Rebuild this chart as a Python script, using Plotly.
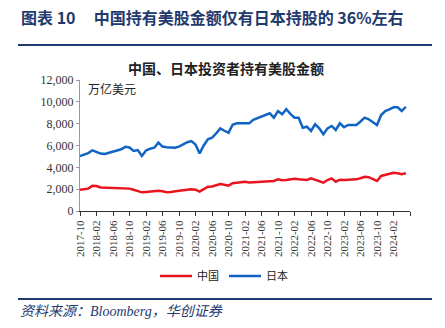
import plotly.graph_objects as go

months = []
y0, m0 = 2017, 10
for i in range(81):
    mm = m0 - 1 + i
    months.append(f"{y0 + mm // 12}-{mm % 12 + 1:02d}")

japan = [5040, 5200, 5300, 5560, 5400, 5260, 5220, 5320, 5400, 5480,
         5650, 5880, 5820, 5500, 5580, 5040, 5550, 5700, 5800, 6260,
         5900, 5850, 5820, 5800, 5900, 6100, 6300, 6410, 6100, 5280,
         6000, 6570, 6710, 7100, 7570, 7350, 7170, 7900, 8030, 8030,
         8030, 8030, 8350, 8490, 8650, 8800, 8950, 8550, 9160, 8860,
         9320, 8900, 8550, 8550, 7630, 7720, 7330, 7940, 7570, 7030,
         7570, 7790, 7420, 8030, 7670, 7880, 7880, 7880, 8200, 8550,
         8400, 8150, 7880, 8790, 9150, 9300, 9500, 9500, 9160, 9550]
china = [1950, 2000, 2050, 2300, 2280, 2150, 2130, 2130, 2130, 2120,
         2100, 2080, 2050, 1950, 1850, 1710, 1750, 1800, 1830, 1860,
         1800, 1710, 1750, 1830, 1850, 1900, 1950, 1990, 1950, 1770,
         2000, 2230, 2250, 2350, 2470, 2400, 2320, 2540, 2600, 2650,
         2680, 2620, 2650, 2680, 2700, 2720, 2750, 2750, 2900, 2810,
         2850, 2900, 2960, 2900, 2880, 2840, 2990, 2880, 2750, 2590,
         2840, 2990, 2680, 2870, 2850, 2870, 2870, 2900, 3000, 3140,
         3100, 2950, 2750, 3210, 3300, 3390, 3510, 3450, 3360, 3450]

n = len(japan)
xs = list(range(n))
tickvals = list(range(0, 81, 4))
ticktext = [months[i] if i < 80 else "" for i in tickvals]

fig = go.Figure()
fig.add_trace(go.Scatter(x=xs, y=china, name="中国", mode="lines",
                         line=dict(color="#E8141E", width=2.5)))
fig.add_trace(go.Scatter(x=xs, y=japan, name="日本", mode="lines",
                         line=dict(color="#1164C4", width=2.5)))

navy = "#1F3A6E"
serif = "Liberation Serif, Times New Roman, serif"
cjk = "Noto Sans CJK SC"

L, R, T, B = 80, 410, 80, 211
W, H = 445, 328
def px(x):
    return (x - L) / (R - L)
def py(y):
    return (B - y) / (B - T)

fig.update_layout(
    width=W, height=H,
    margin=dict(l=L, r=W - R, t=T, b=H - B),
    paper_bgcolor="white", plot_bgcolor="white",
    showlegend=True,
    legend=dict(orientation="h", x=px(224), y=py(276), xanchor="center",
                yanchor="middle", font=dict(family=cjk, size=11, color="#222"),
                itemwidth=32, bgcolor="rgba(0,0,0,0)"),
    xaxis=dict(range=[0, 80], tickmode="array", tickvals=tickvals,
               ticktext=ticktext, tickangle=-90, showgrid=False,
               showline=True, linecolor="#333", linewidth=1,
               ticks="outside", ticklen=4, tickcolor="#333",
               tickfont=dict(family=serif, size=11, color="#333"),
               zeroline=False),
    yaxis=dict(range=[0, 12000], tickmode="array",
               tickvals=list(range(0, 12001, 2000)),
               ticktext=[f"{v:,}" for v in range(0, 12001, 2000)],
               showgrid=False, showline=True, linecolor="#999", linewidth=1,
               ticks="outside", ticklen=3, tickcolor="#999",
               tickfont=dict(family=serif, size=12, color="#333"),
               zeroline=False),
)

fig.add_annotation(xref="paper", yref="paper", x=px(19), y=py(17),
                   xanchor="left", yanchor="middle", showarrow=False,
                   text="<b>图表 10&nbsp;&nbsp;&nbsp;&nbsp;&nbsp;中国持有美股金额仅有日本持股的 36%左右</b>",
                   font=dict(family=cjk, size=16, color=navy))
fig.add_shape(type="line", xref="paper", yref="paper",
              x0=px(18), x1=px(432), y0=py(45), y1=py(45),
              line=dict(color=navy, width=2))
fig.add_annotation(xref="paper", yref="paper", x=px(226), y=py(68),
                   xanchor="center", yanchor="middle", showarrow=False,
                   text="<b>中国、日本投资者持有美股金额</b>",
                   font=dict(family=cjk, size=14, color="#222"))
fig.add_annotation(xref="paper", yref="paper", x=px(86), y=py(88),
                   xanchor="left", yanchor="middle", showarrow=False,
                   text="万亿美元",
                   font=dict(family=cjk, size=12, color="#222"))
fig.add_shape(type="line", xref="paper", yref="paper",
              x0=px(18), x1=px(432), y0=py(299), y1=py(299),
              line=dict(color=navy, width=2))
fig.add_annotation(xref="paper", yref="paper", x=px(18), y=py(311),
                   xanchor="left", yanchor="middle", showarrow=False,
                   text="<i>资料来源：Bloomberg，华创证券</i>",
                   font=dict(family="Liberation Serif, " + cjk, size=14, color=navy))

fig.write_html("out.html")
